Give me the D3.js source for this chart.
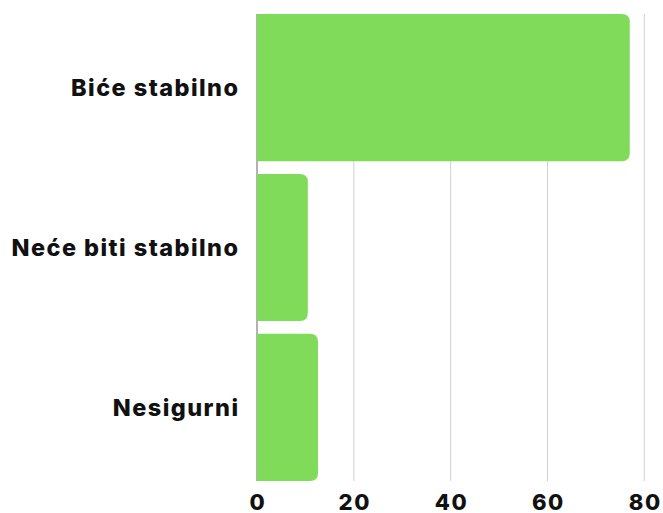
<!DOCTYPE html>
<html><head><meta charset="utf-8">
<script src="https://cdn.jsdelivr.net/npm/d3@7"></script>
<style>body{margin:0;background:#fff}svg{display:block}</style>
</head><body>
<svg id="c" width="663" height="513"></svg>
<script>
const categories = ["Biće stabilno", "Neće biti stabilno", "Nesigurni"];
const values = [77, 10.5, 12.6];
const tickValues = [0, 20, 40, 60, 80];

const svg = d3.select("#c");
const x = d3.scaleLinear().domain([0, 80]).range([257, 644.3]);
const y = d3.scaleBand().domain(categories).range([14, 481]).paddingInner(0.08).paddingOuter(0);
const font = "Inter, 'DejaVu Sans', sans-serif";

// gridlines
svg.append("g").selectAll("line").data(tickValues.slice(1)).join("line")
  .attr("x1", d => x(d)).attr("x2", d => x(d))
  .attr("y1", 14).attr("y2", 481)
  .attr("stroke", "#d0d0d0").attr("stroke-width", 1);

// left axis line
svg.append("line").attr("x1", x(0)).attr("x2", x(0)).attr("y1", 14).attr("y2", 481)
  .attr("stroke", "#666").attr("stroke-width", 1);

// bars with rounded right corners
const r = 8;
svg.append("g").selectAll("path").data(categories).join("path")
  .attr("fill", "#80db5a")
  .attr("d", (c, i) => {
    const x0 = x(0), x1 = x(values[i]), y0 = y(c), h = y.bandwidth();
    return `M${x0},${y0}H${x1 - r}Q${x1},${y0} ${x1},${y0 + r}V${y0 + h - r}Q${x1},${y0 + h} ${x1 - r},${y0 + h}H${x0}Z`;
  });

// category labels
svg.append("g").selectAll("text").data(categories).join("text")
  .attr("x", 239.5).attr("y", c => y(c) + y.bandwidth() / 2)
  .attr("dy", "0.36em").attr("text-anchor", "end")
  .attr("font-family", font).attr("font-weight", 800).attr("font-size", 23.5)
  .attr("letter-spacing", "1.45px")
  .attr("fill", "#111").text(c => c);

// x tick labels
svg.append("g").selectAll("text").data(tickValues).join("text")
  .attr("x", d => x(d) + 1).attr("y", 509.5)
  .attr("text-anchor", "middle")
  .attr("font-family", font).attr("font-weight", 800).attr("font-size", 22)
  .attr("letter-spacing", "1.6px")
  .attr("fill", "#111").text(d => d);
</script>
</body></html>
